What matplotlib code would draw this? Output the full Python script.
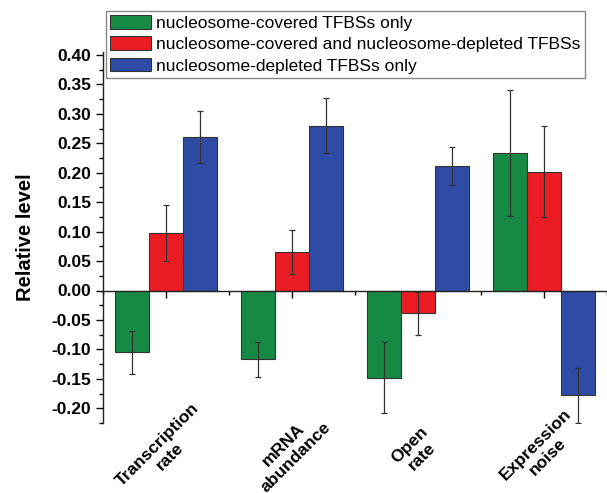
import matplotlib
matplotlib.use("Agg")
import matplotlib.pyplot as plt
import numpy as np
from matplotlib.patches import Patch
from matplotlib.ticker import MultipleLocator

categories = ["Transcription\nrate", "mRNA\nabundance", "Open\nrate", "Expression\nnoise"]
series_names = ["nucleosome-covered TFBSs only",
                "nucleosome-covered and nucleosome-depleted TFBSs",
                "nucleosome-depleted TFBSs only"]
covered_only = [-0.105, -0.117, -0.148, 0.234]
covered_only_err = [0.037, 0.030, 0.060, 0.107]
both = [0.098, 0.065, -0.039, 0.202]
both_err = [0.048, 0.037, 0.037, 0.077]
depleted_only = [0.260, 0.280, 0.211, -0.178]
depleted_only_err = [0.044, 0.047, 0.032, 0.047]
yticks = [-0.20, -0.15, -0.10, -0.05, 0.00, 0.05, 0.10, 0.15, 0.20, 0.25, 0.30, 0.35, 0.40]

colors = ["#168A45", "#EC1C24", "#2E4CA5"]

plt.rcParams['font.family'] = ['Liberation Sans', 'DejaVu Sans']

fig = plt.figure(figsize=(6.07, 4.93), dpi=100)
ax = fig.add_axes([103/607, 1-423/493, (607-103)/607, (423-52)/493])

x = np.arange(len(categories))
w = 0.27
data = [covered_only, both, depleted_only]
errs = [covered_only_err, both_err, depleted_only_err]
for i, (vals, e, c) in enumerate(zip(data, errs, colors)):
    ax.bar(x + (i-1)*w, vals, w, color=c, edgecolor="#333333", linewidth=0.8,
           yerr=e, error_kw=dict(ecolor="#333333", elinewidth=0.9, capsize=2.5, capthick=0.9), zorder=2)

ax.set_xlim(-0.5, 3.5)
ax.set_ylim(-0.225, 0.405)
ax.spines['top'].set_visible(False)
ax.spines['right'].set_visible(False)
ax.spines['bottom'].set_position(('data', 0))
ax.spines['bottom'].set_bounds(-0.5, 3.5)
for s in ['left', 'bottom']:
    ax.spines[s].set_linewidth(1.0)
    ax.spines[s].set_color("#222222")
ax.spines['left'].set_bounds(-0.225, 0.405)

ax.set_yticks(yticks)
ax.set_yticklabels([f"{v:.2f}" for v in yticks], fontsize=12.5, fontweight='bold')
ax.yaxis.set_minor_locator(MultipleLocator(0.025))
ax.tick_params(axis='y', which='major', length=5, width=1.0, direction='out')
ax.tick_params(axis='y', which='minor', length=3, width=1.0, direction='out')

ax.set_xticks(x)
ax.set_xticklabels([])
ax.set_xticks(np.arange(-0.5, 4.0, 1.0), minor=True)
ax.tick_params(axis='x', which='major', length=5, width=1.0, direction='out')
ax.tick_params(axis='x', which='minor', length=3, width=1.0, direction='out')

for xi, lab in zip(x, categories):
    ax.text(xi - 0.02, -0.075, lab, transform=ax.get_xaxis_transform(), rotation=45,
            ha='center', va='center', multialignment='center',
            fontsize=12.5, fontweight='bold')

ax.set_ylabel("Relative level", fontsize=14.5, fontweight='bold', labelpad=12)

handles = [Patch(facecolor=c, edgecolor="#333333", linewidth=0.8) for c in colors]
leg = fig.legend(handles, series_names, loc='upper left',
                 bbox_to_anchor=(106/607, 1-11/493), borderaxespad=0,
                 fontsize=12.5, handlelength=2.35, handleheight=0.85,
                 labelspacing=0.3, handletextpad=0.3, borderpad=0.25,
                 fancybox=False, framealpha=1)
leg.get_frame().set_edgecolor("#888888")
leg.get_frame().set_linewidth(1.0)

fig.savefig("out.png", dpi=100)
